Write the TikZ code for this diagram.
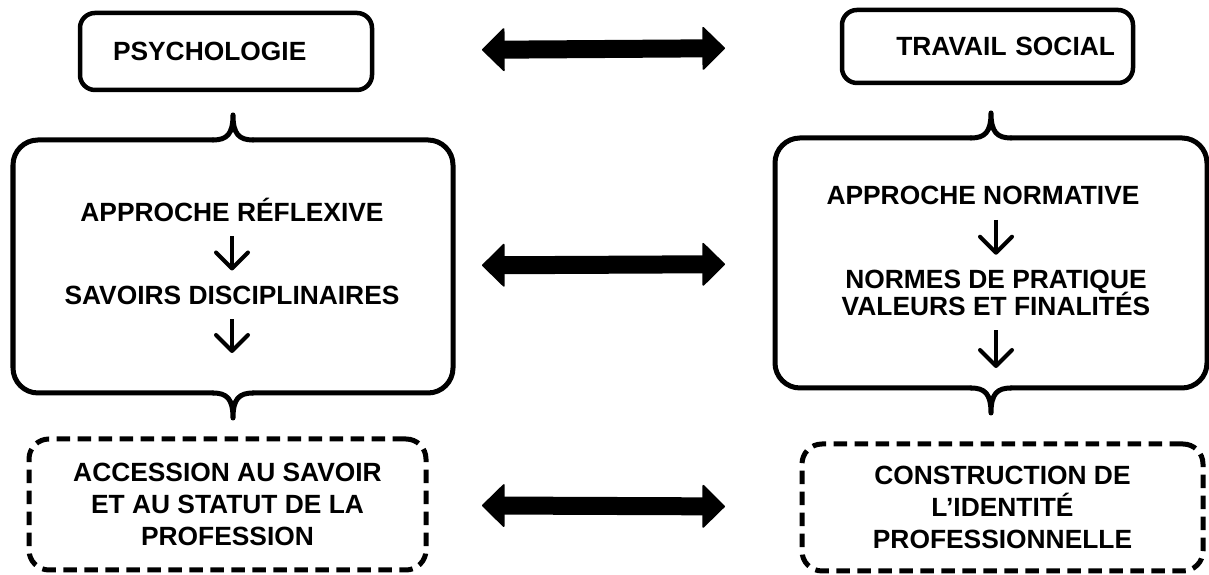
\documentclass[tikz,border=0pt]{standalone}
\usepackage{fontspec}
\setmainfont{Liberation Sans}
\usetikzlibrary{arrows.meta}
\tikzstyle{txt} = [font=\fontsize{15pt}{18pt}\selectfont\bfseries, align=center, inner sep=0pt, outer sep=0pt]
\tikzstyle{oneline} = [txt, text height=0.38cm, text depth=0pt]
\tikzstyle{titlebox} = [oneline, draw, line width=0.09cm, rounded corners=0.3cm, inner ysep=0pt]
\tikzstyle{dashbox} = [txt, draw, line width=0.1cm, rounded corners=0.4cm, dash pattern=on 0.27cm off 0.15cm]
\tikzstyle{bracebox} = [inner sep=0pt, outer sep=0pt]
\tikzstyle{brace} = [draw, line width=0.1cm, line cap=round, line join=round]
\tikzstyle{twoway} = [draw, line width=0.36cm, {Triangle[round, line width=1pt, length=0.46cm, width=0.9cm]}-{Triangle[round, line width=1pt, length=0.46cm, width=0.9cm]}]
\tikzstyle{flow} = [draw, line width=0.08cm, shorten <=0.3cm, -{Straight Barb[round, length=0.32cm, width=0.64cm]}]
\newcommand{\braceframe}[1]{%
  \draw[brace, rounded corners=0.5cm] ([xshift=-0.4cm]#1.north) -- (#1.north west) -- (#1.south west) -- ([xshift=-0.4cm]#1.south);
  \draw[brace, rounded corners=0.5cm] ([xshift=0.4cm]#1.north) -- (#1.north east) -- (#1.south east) -- ([xshift=0.4cm]#1.south);
  \draw[brace] ([xshift=-0.4cm]#1.north) .. controls ([xshift=-0.12cm]#1.north) and ([yshift=0.12cm]#1.north) .. ([yshift=0.5cm]#1.north)
    .. controls ([yshift=0.12cm]#1.north) and ([xshift=0.12cm]#1.north) .. ([xshift=0.4cm]#1.north);
  \draw[brace] ([xshift=-0.4cm]#1.south) .. controls ([xshift=-0.12cm]#1.south) and ([yshift=-0.12cm]#1.south) .. ([yshift=-0.5cm]#1.south)
    .. controls ([yshift=-0.12cm]#1.south) and ([xshift=0.12cm]#1.south) .. ([xshift=0.4cm]#1.south);}

\begin{document}
\begin{tikzpicture}
        \useasboundingbox (0,0) rectangle (24.18,11.5);

        % disciplines
        \node[titlebox, minimum height=1.54cm, text width=4.52cm, inner xsep=0.66cm, align=left] (psycho) at (4.52,10.47) {PSYCHOLOGIE};
        \node[titlebox, minimum height=1.46cm, text width=5.1cm, inner xsep=0.36cm, align=right] (travail) at (19.75,10.57) {TRAVAIL SOCIAL};
        \draw[twoway, shorten <=2.2cm, shorten >=2.34cm] (psycho) -- (travail);

        % approaches
        \node[bracebox, minimum width=8.8cm, minimum height=5.06cm] (leftframe) at (4.66,6.17) {};
        \node[bracebox, minimum width=8.64cm, minimum height=5cm] (rightframe) at (19.82,6.24) {};
        \braceframe{leftframe}
        \braceframe{rightframe}
        \draw[twoway, shorten <=0.58cm, shorten >=1cm] (leftframe) -- (rightframe);

        \node[oneline] (reflexive) at (4.64,7.26) {APPROCHE RÉFLEXIVE};
        \node[oneline] (savoirs) at (4.64,5.6) {SAVOIRS DISCIPLINAIRES};
        \coordinate (leftend) at (4.64,4.44);
        \draw[flow, shorten >=0.3cm] (reflexive) -- (savoirs);
        \draw[flow] (savoirs.south) -- (leftend);

        \node[oneline] (normative) at (19.66,7.59) {APPROCHE NORMATIVE};
        \node[txt] (normes) at (19.92,5.65) {NORMES DE PRATIQUE\\[-2.7pt] VALEURS ET FINALITÉS};
        \coordinate (rightend) at (19.92,4.14);
        \draw[flow, shorten >=0.3cm] (normative.south -| normes.north) -- (normes.north);
        \draw[flow] (normes.south) -- (rightend);

        % outcomes
        \node[dashbox, minimum width=7.94cm, minimum height=2.62cm] (accession) at (4.55,1.41) {ACCESSION AU SAVOIR\\ ET AU STATUT DE LA\\ PROFESSION};
        \node[dashbox, minimum width=8.02cm, minimum height=2.54cm] (identite) at (20.05,1.35) {CONSTRUCTION DE\\ L’IDENTITÉ\\ PROFESSIONNELLE};
        \draw[twoway, shorten <=1.12cm, shorten >=1.54cm] (accession) -- (identite);
    \end{tikzpicture}
\end{document}
